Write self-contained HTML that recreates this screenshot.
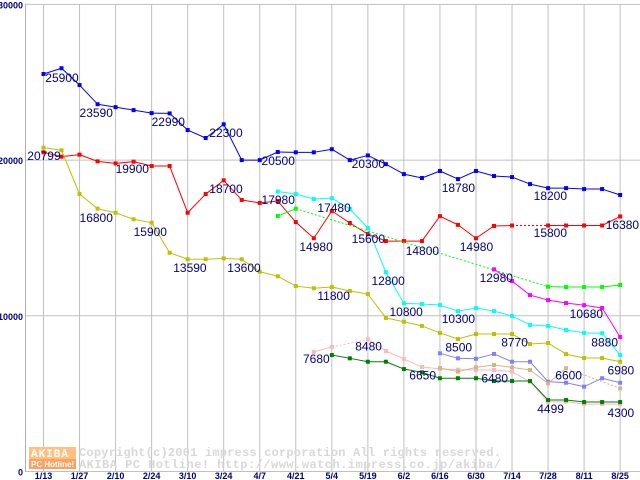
<!DOCTYPE html>
<html><head><meta charset="utf-8"><style>
body{margin:0;background:#fff;width:640px;height:480px;overflow:hidden}
svg{display:block}
.lbl{font-family:"Liberation Sans",sans-serif;font-size:12px;fill:#000080}
.tick{font-family:"Liberation Sans",sans-serif;font-size:9px;font-weight:bold;fill:#000080}
.wm{font-family:"Liberation Mono",monospace;font-size:12px;font-weight:bold;fill:#d8d8d8;letter-spacing:1px}
</style></head><body>
<svg id="chart" width="640" height="480"></svg>
<script>
const xLabels=["1/13","1/27","2/10","2/24","3/10","3/24","4/7","4/21","5/4","5/19","6/2","6/16","6/30","7/14","7/28","8/11","8/25"];
const yTicks=[0,10000,20000,30000];
const N=null;
const blue=[25530,25900,24820,23590,23400,23210,23020,23000,21930,21420,22300,20000,20000,20520,20500,20500,20700,20000,20300,19740,19100,18850,19300,18780,19300,18980,18910,18460,18200,18200,18140,18140,17760];
const red=[20500,20220,20350,19920,19790,19900,19620,19620,16620,17820,18700,17440,17250,17370,16020,14980,16730,15960,15250,14800,14800,14800,16400,15840,14980,15770,15800,N,15800,15800,15800,15800,16380];
const olive=[20800,20630,17820,16880,16620,16200,15980,14050,13630,13630,13690,13630,12830,12540,11910,11770,11850,11590,11400,9860,9620,9350,8900,8510,8830,8830,8830,8190,8250,7540,7290,7290,7050];
const cyan=[N,N,N,N,N,N,N,N,N,N,N,N,N,17980,17820,17500,17560,16860,15640,12800,10800,10760,10690,10300,10500,10300,9990,9410,9350,9090,8900,8880,7480];
const green=[N,N,N,N,N,N,N,N,N,N,N,N,N,16410,16880,N,N,N,N,N,N,N,N,N,N,N,N,N,11870,11850,11850,11850,11980];
const magenta=[N,N,N,N,N,N,N,N,N,N,N,N,N,N,N,N,N,N,N,N,N,N,N,N,N,12980,12230,11330,11010,10820,10680,10500,8640];
const pink=[N,N,N,N,N,N,N,N,N,N,N,N,N,N,N,7680,8000,N,8480,7740,7230,6710,6580,6540,6520,6520,6410,5770,4480,4480,4330,4330,4330];
const dkgreen=[N,N,N,N,N,N,N,N,N,N,N,N,N,N,N,N,7480,7270,7050,7050,6580,6370,5990,5990,5990,5810,5810,5810,4590,4590,4460,4460,4460];
const peri=[N,N,N,N,N,N,N,N,N,N,N,N,N,N,N,N,N,N,N,N,N,N,7590,7270,7240,7550,7050,7050,5770,5700,5450,5990,5700];
const tan=[N,N,N,N,N,N,N,N,N,N,N,N,N,N,N,N,N,N,N,N,N,N,6650,6410,6690,6840,6690,6520,5660,6630,N,N,5340];
const labelTexts=["25900","23590","22990","22300","20799","20500","19900","18700","17980","16800","15900","13590","13600","14980","17480","11800","20300","18780","18200","15600","14800","14980","15800","16380","12800","12980","10800","10300","10680","7680","8480","8500","8770","8880","6650","6480","6600","6980","4499","4300"];
const labelWeek=[0.1,2,6,9.2,-0.9,12.1,4,9.2,12.1,2,5,7.2,10.2,14.2,15.2,15.2,17.1,22.1,27.2,17.1,20.1,23.1,27.2,31.2,18.2,24.2,19.2,22.1,29.2,14.4,17.3,22.3,25.4,30.4,20.3,24.3,28.4,31.3,27.4,31.3];
const labelVal=[25010,22770,22190,21480,20000,19690,19170,17890,17180,16020,15120,12810,12810,14160,16670,11010,19490,17950,17440,14680,13910,14160,15060,15570,11990,12170,9990,9540,9860,6980,7770,7710,8030,8030,5910,5720,5910,6230,3760,3500];
const series=[
 {name:"series-blue",data:blue,color:"#0000ff"},
 {name:"series-red",data:red,color:"#ff0000"},
 {name:"series-olive",data:olive,color:"#c0c000"},
 {name:"series-cyan",data:cyan,color:"#00ffff"},
 {name:"series-green",data:green,color:"#00ff00"},
 {name:"series-magenta",data:magenta,color:"#ff00ff"},
 {name:"series-pink",data:pink,color:"#ffb6c1"},
 {name:"series-darkgreen",data:dkgreen,color:"#008000"},
 {name:"series-periwinkle",data:peri,color:"#8080ff"},
 {name:"series-tan",data:tan,color:"#d2b48c"}
];
const NS="http://www.w3.org/2000/svg";
const svg=document.getElementById('chart');
const X0=43.5,DX=18.02,Y0=471.5,KY=0.01557;
function xs(i){return X0+DX*i;}
function ys(v){return Y0-v*KY;}
function mk(tag,attrs,parent){const e=document.createElementNS(NS,tag);for(const k in attrs)e.setAttribute(k,attrs[k]);(parent||svg).appendChild(e);return e;}
const grid=mk('g',{});


xLabels.forEach((t,j)=>{const x=xs(j*2);mk('line',{x1:x,x2:x,y1:ys(30000),y2:ys(0),stroke:'#c0c0c0','stroke-width':1},grid);});
yTicks.forEach(v=>{mk('line',{x1:25,x2:640,y1:ys(v),y2:ys(v),stroke:'#c0c0c0','stroke-width':1},grid);});
mk('line',{x1:25.5,x2:25.5,y1:ys(30000),y2:ys(0),stroke:'#b0b0b0'},grid);
yTicks.forEach(v=>{const t=mk('text',{x:23,y:ys(v)+4,'text-anchor':'end',class:'tick'});t.textContent=v;

});
xLabels.forEach((s,j)=>{const t=mk('text',{x:xs(j*2),y:479,'text-anchor':'middle',class:'tick'});t.textContent=s;

});
const wm=mk('g',{});


mk('rect',{x:29,y:447,width:47,height:12,fill:'#ffc080'},wm);
mk('rect',{x:29,y:459,width:47,height:10,fill:'#ffa060'},wm);
let t1=mk('text',{x:31,y:457,class:'wm',style:'fill:#fff;font-size:11px'},wm);t1.textContent='AKIBA';
let t2=mk('text',{x:31,y:467,style:'fill:#fff;font-family:Liberation Sans,sans-serif;font-size:8px;font-weight:bold'},wm);t2.textContent='PC Hotline!';
let t3=mk('text',{x:79,y:456,class:'wm'},wm);t3.textContent='Copyright(c)2001 impress corporation All rights reserved.';
t3.setAttribute('textLength','423');
let t4=mk('text',{x:79,y:468,class:'wm'},wm);t4.textContent='AKIBA PC Hotline!  http://www.watch.impress.co.jp/akiba/';
t4.setAttribute('textLength','423');
series.forEach(s=>{
 const g=mk('g',{});
 
 
 let prev=-1;
 s.data.forEach((v,i)=>{
  if(v===null)return;
  if(prev>=0){
   const a={x1:xs(prev),y1:ys(s.data[prev]),x2:xs(i),y2:ys(v),stroke:s.color,'stroke-width':1};
   if(i-prev>1)a['stroke-dasharray']='2,2';
   mk('line',a,g);
  }
  prev=i;
 });
 s.data.forEach((v,i)=>{
  if(v===null)return;
  const r=mk('rect',{x:xs(i)-2,y:ys(v)-2,width:4,height:4,fill:s.color},g);
  
  
 });
});
labelTexts.forEach((s,k)=>{
 const t=mk('text',{x:xs(labelWeek[k]),y:ys(labelVal[k]),class:'lbl'});
 t.textContent=s;
 
 
});
</script>
</body></html>
